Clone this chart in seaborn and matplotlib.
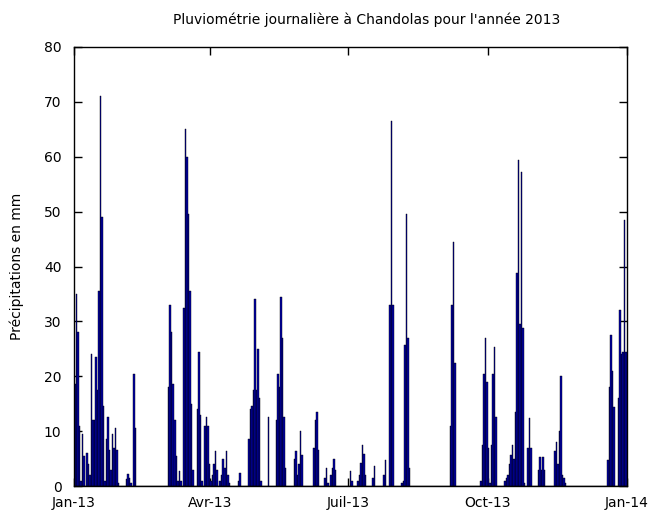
import numpy as np
import pandas as pd
import matplotlib
matplotlib.use("Agg")
import matplotlib.pyplot as plt
import seaborn as sns

# ---- data (day of year 0..364, daily rainfall in mm) ----
rain_days = [0, 1, 2, 3, 4, 5, 6, 8, 9, 10, 11, 12, 13, 14, 15, 16, 17, 18, 19, 20,
             21, 22, 23, 24, 25, 26, 27, 28, 29, 34, 35, 36, 37, 39, 40,
             62, 63, 64, 65, 66, 67, 68, 69, 70, 72, 73, 74, 75, 76, 77, 78,
             81, 82, 83, 84, 86, 87, 88, 89, 90, 91, 92, 93, 94, 96, 97, 98, 99, 100,
             101, 102, 108, 109,
             115, 116, 117, 118, 119, 120, 121, 122, 123, 128, 133, 134, 135, 136, 137,
             138, 139, 145, 146, 147, 148, 149, 150, 158, 159, 160, 161, 165, 166, 167,
             169, 170, 171, 172,
             182, 183, 187, 188, 189, 190, 191, 192, 197, 198, 204, 205, 208, 209, 210,
             216, 217, 218, 219, 220, 221,
             248, 249, 250, 251, 268, 269, 270, 271, 272, 273, 274, 275, 276, 277, 278,
             284, 285, 286, 287, 288, 289, 290, 291, 292, 293, 294, 295, 296, 297,
             299, 300, 301, 306, 307, 308, 309, 310, 317, 318, 319, 320, 321, 322, 323, 324,
             352, 353, 354, 355, 356, 359, 360, 361, 362, 363, 364]
rain_mm = [18.5, 35, 28, 11, 1, 9.5, 5.5, 6, 4, 2, 24, 12, 12, 23.5, 17.5, 35.5, 71, 49, 14.5, 1,
           8.5, 12.5, 6.5, 3, 9.5, 7, 10.5, 6.5, 0.5, 1.2, 2.2, 1.5, 0.5, 20.5, 10.5,
           18, 33, 28, 18.5, 12, 5.5, 1, 2.8, 1, 32.5, 65, 60, 49.5, 35.5, 15, 3,
           14, 24.5, 13, 1, 11, 12.5, 11, 4, 1, 2, 4, 6.3, 3, 1, 2, 5, 3.3, 6.3,
           2, 0.5, 1, 2.3,
           8.5, 14, 14.5, 17.5, 34, 17.5, 25, 16, 1, 12.5, 12, 20.5, 18, 34.5, 27,
           12.6, 3.3, 5, 6.3, 2, 4, 10, 5.7, 7, 12, 13.5, 6.5, 1.5, 3.3, 0.5,
           2, 3.3, 5, 3,
           2.7, 1, 1, 2, 4.2, 7.5, 5.8, 2, 1.5, 3.6, 2, 4.8, 33, 66.5, 33,
           0.5, 1, 25.7, 49.5, 27, 3.3,
           11, 33, 44.5, 22.5, 1, 7.5, 20.5, 27, 19, 7, 0.5, 7.4, 20.5, 25.4, 12.6,
           1, 1.5, 2, 4, 5.6, 7.4, 5, 13.5, 38.8, 59.4, 29.6, 57.3, 28.8, 0.5,
           7, 12.4, 7, 2.9, 5.3, 3, 5.3, 2.9, 6.4, 8, 4, 10, 20, 2, 1.5, 0.5,
           4.8, 18, 27.5, 21, 14.4, 16, 32, 24, 24.5, 48.5, 24.5]

tick_days = [0, 90, 181, 273, 365]
tick_labels = ["Jan-13", "Avr-13", "Juil-13", "Oct-13", "Jan-14"]
y_ticks = [0, 10, 20, 30, 40, 50, 60, 70, 80]

df = pd.DataFrame({"day": rain_days, "mm": rain_mm})

sns.set_theme(style="ticks")
plt.rcParams["font.family"] = ["DejaVu Sans"]

fig = plt.figure(figsize=(6.56, 5.11), dpi=100)
ax = fig.add_axes([74 / 656, 1 - 486 / 511, (627 - 74) / 656, (486 - 47) / 511])

sns.histplot(data=df, x="day", weights="mm", binwidth=1, binrange=(0, 365),
             color="#0000a8", edgecolor="black", linewidth=0.3, alpha=1.0, ax=ax)

ax.set_xlim(0, 365)
ax.set_ylim(0, 80)
ax.set_xticks(tick_days)
ax.set_xticklabels(tick_labels)
ax.set_yticks(y_ticks)
ax.set_xlabel("")
ax.set_ylabel("Précipitations en mm", fontsize=10, color="black", labelpad=14)
ax.tick_params(axis="both", direction="in", length=6, width=1, colors="black",
               labelsize=10, top=True, right=True)
ax.tick_params(axis="x", pad=7)
ax.tick_params(axis="y", pad=9)
for s in ax.spines.values():
    s.set_visible(True)
    s.set_color("black")
    s.set_linewidth(1.0)
ax.grid(False)
ax.set_facecolor("white")
fig.patch.set_facecolor("white")

fig.text(367 / 656, 1 - 20 / 511, "Pluviométrie journalière à Chandolas pour l'année 2013",
         ha="center", va="center", fontsize=10, color="black")

fig.savefig("out.png", dpi=100, facecolor="white")
